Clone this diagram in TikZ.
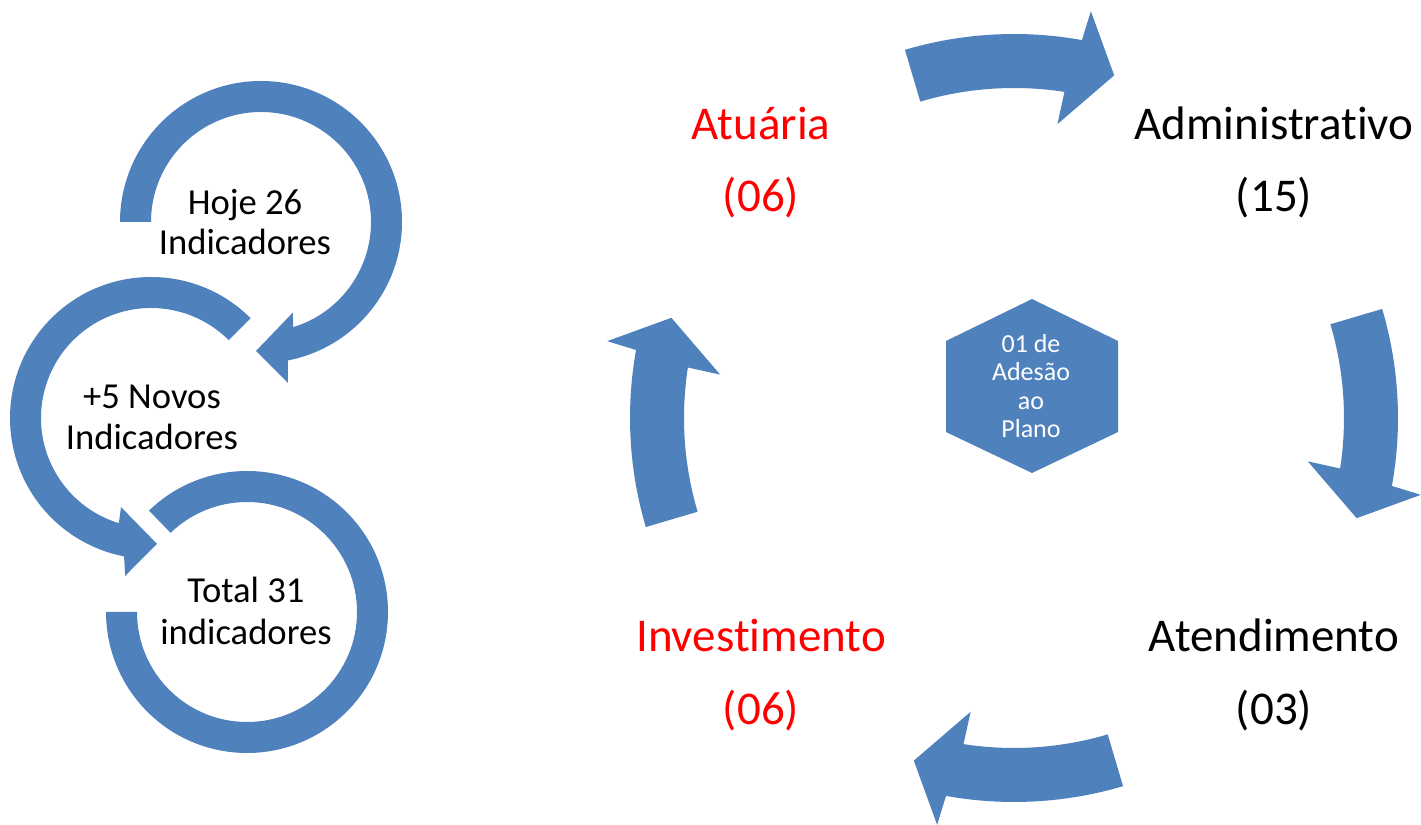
\documentclass[tikz,border=0pt]{standalone}
\usepackage{fontspec}
\setmainfont{Carlito}[Ligatures={NoCommon,NoContextual}]
\usepackage{tikz}
\definecolor{azul}{HTML}{4F81BD}
\definecolor{vermelho}{HTML}{FF0000}

\begin{document}
\begin{tikzpicture}[x=0.5pt,y=0.5pt,
	seta/.style={fill=azul},
	rotulo/.style={anchor=base,font=\fontsize{23.5}{28}\selectfont},
	circtexto/.style={anchor=base,font=\fontsize{18.3}{22}\selectfont},
	hextexto/.style={text=white,align=center,inner sep=0pt,font=\fontsize{13}{14.3}\selectfont}] %Início do gráfico
	\useasboundingbox (0,0) rectangle (1421,825); %Moldura
		%Setas circulares da esquerda
	\fill[seta,shift={(261,603)}] (180:141) arc[start angle=180,end angle=-79,radius=141] -- (-80.5:163) -- (-92.2:129) -- (-70.6:96) -- (-73:110) arc[start angle=-73,end angle=180,radius=110] -- cycle; %Seta de cima
	\fill[seta,shift={(151,407)}] (45:141) arc[start angle=45,end angle=259,radius=141] -- (260.7:160) -- (272.7:126) -- (251.4:94) -- (253:110) arc[start angle=253,end angle=45,radius=110] -- cycle; %Seta do meio
	\fill[seta,shift={(247,213)}] (134:141) arc[start angle=134,end angle=-180,radius=141] -- (-180:110) arc[start angle=-180,end angle=134,radius=110] -- cycle; %Anel de baixo
		%Textos da esquerda
	\node[circtexto] (hoje) at (245,610) {Hoje 26};
	\node[circtexto] (hojeind) at (245,570) {Indicadores};
	\node[circtexto] (novos) at (152,416) {+5 Novos};
	\node[circtexto] (novosind) at (152,375) {Indicadores};
	\node[circtexto] (total) at (246,222) {Total 31};
	\node[circtexto] (totalind) at (246,180) {indicadores};
		%Ciclo da direita
	\fill[seta,shift={(1014,407)}] (106.5:330) arc[start angle=106.5,end angle=81.2,radius=330] -- (81.6:297) -- (73.7:357) -- (79.3:414) -- (79.8:384) arc[start angle=79.8,end angle=106.5,radius=384] -- cycle; %Seta de cima
	\fill[seta,shift={(1014,407)}] (16.5:330) arc[start angle=16.5,end angle=-8.8,radius=330] -- (-8.4:297) -- (-16.3:357) -- (-10.7:414) -- (-10.2:384) arc[start angle=-10.2,end angle=16.5,radius=384] -- cycle; %Seta da direita
	\fill[seta,shift={(1014,407)}] (-73.5:330) arc[start angle=-73.5,end angle=-98.8,radius=330] -- (-98.4:297) -- (-106.3:357) -- (-100.7:414) -- (-100.2:384) arc[start angle=-100.2,end angle=-73.5,radius=384] -- cycle; %Seta de baixo
	\fill[seta,shift={(1014,407)}] (196.5:330) arc[start angle=196.5,end angle=171.2,radius=330] -- (171.6:297) -- (163.7:357) -- (169.3:414) -- (169.8:384) arc[start angle=169.8,end angle=196.5,radius=384] -- cycle; %Seta da esquerda
	\fill[azul] (1032,526) -- (1118,484) -- (1118,393) -- (1032,352) -- (946,393) -- (946,484) -- cycle; %Hexágono
	\node[hextexto] (adesao) at (1031,439) {01 de\\Adesão\\ao\\Plano};
		%Rótulos
	\node[rotulo,text=vermelho] (atuaria) at (761,685) {Atuária};
	\node[rotulo,text=vermelho] (atuariaqtd) at (761,613) {(06)};
	\node[rotulo] (administrativo) at (1274,685) {Administrativo};
	\node[rotulo] (administrativoqtd) at (1274,613) {(15)};
	\node[rotulo,text=vermelho] (investimento) at (761,173) {Investimento};
	\node[rotulo,text=vermelho] (investimentoqtd) at (761,100) {(06)};
	\node[rotulo] (atendimento) at (1274,173) {Atendimento};
	\node[rotulo] (atendimentoqtd) at (1274,100) {(03)};
\end{tikzpicture}
\end{document}
